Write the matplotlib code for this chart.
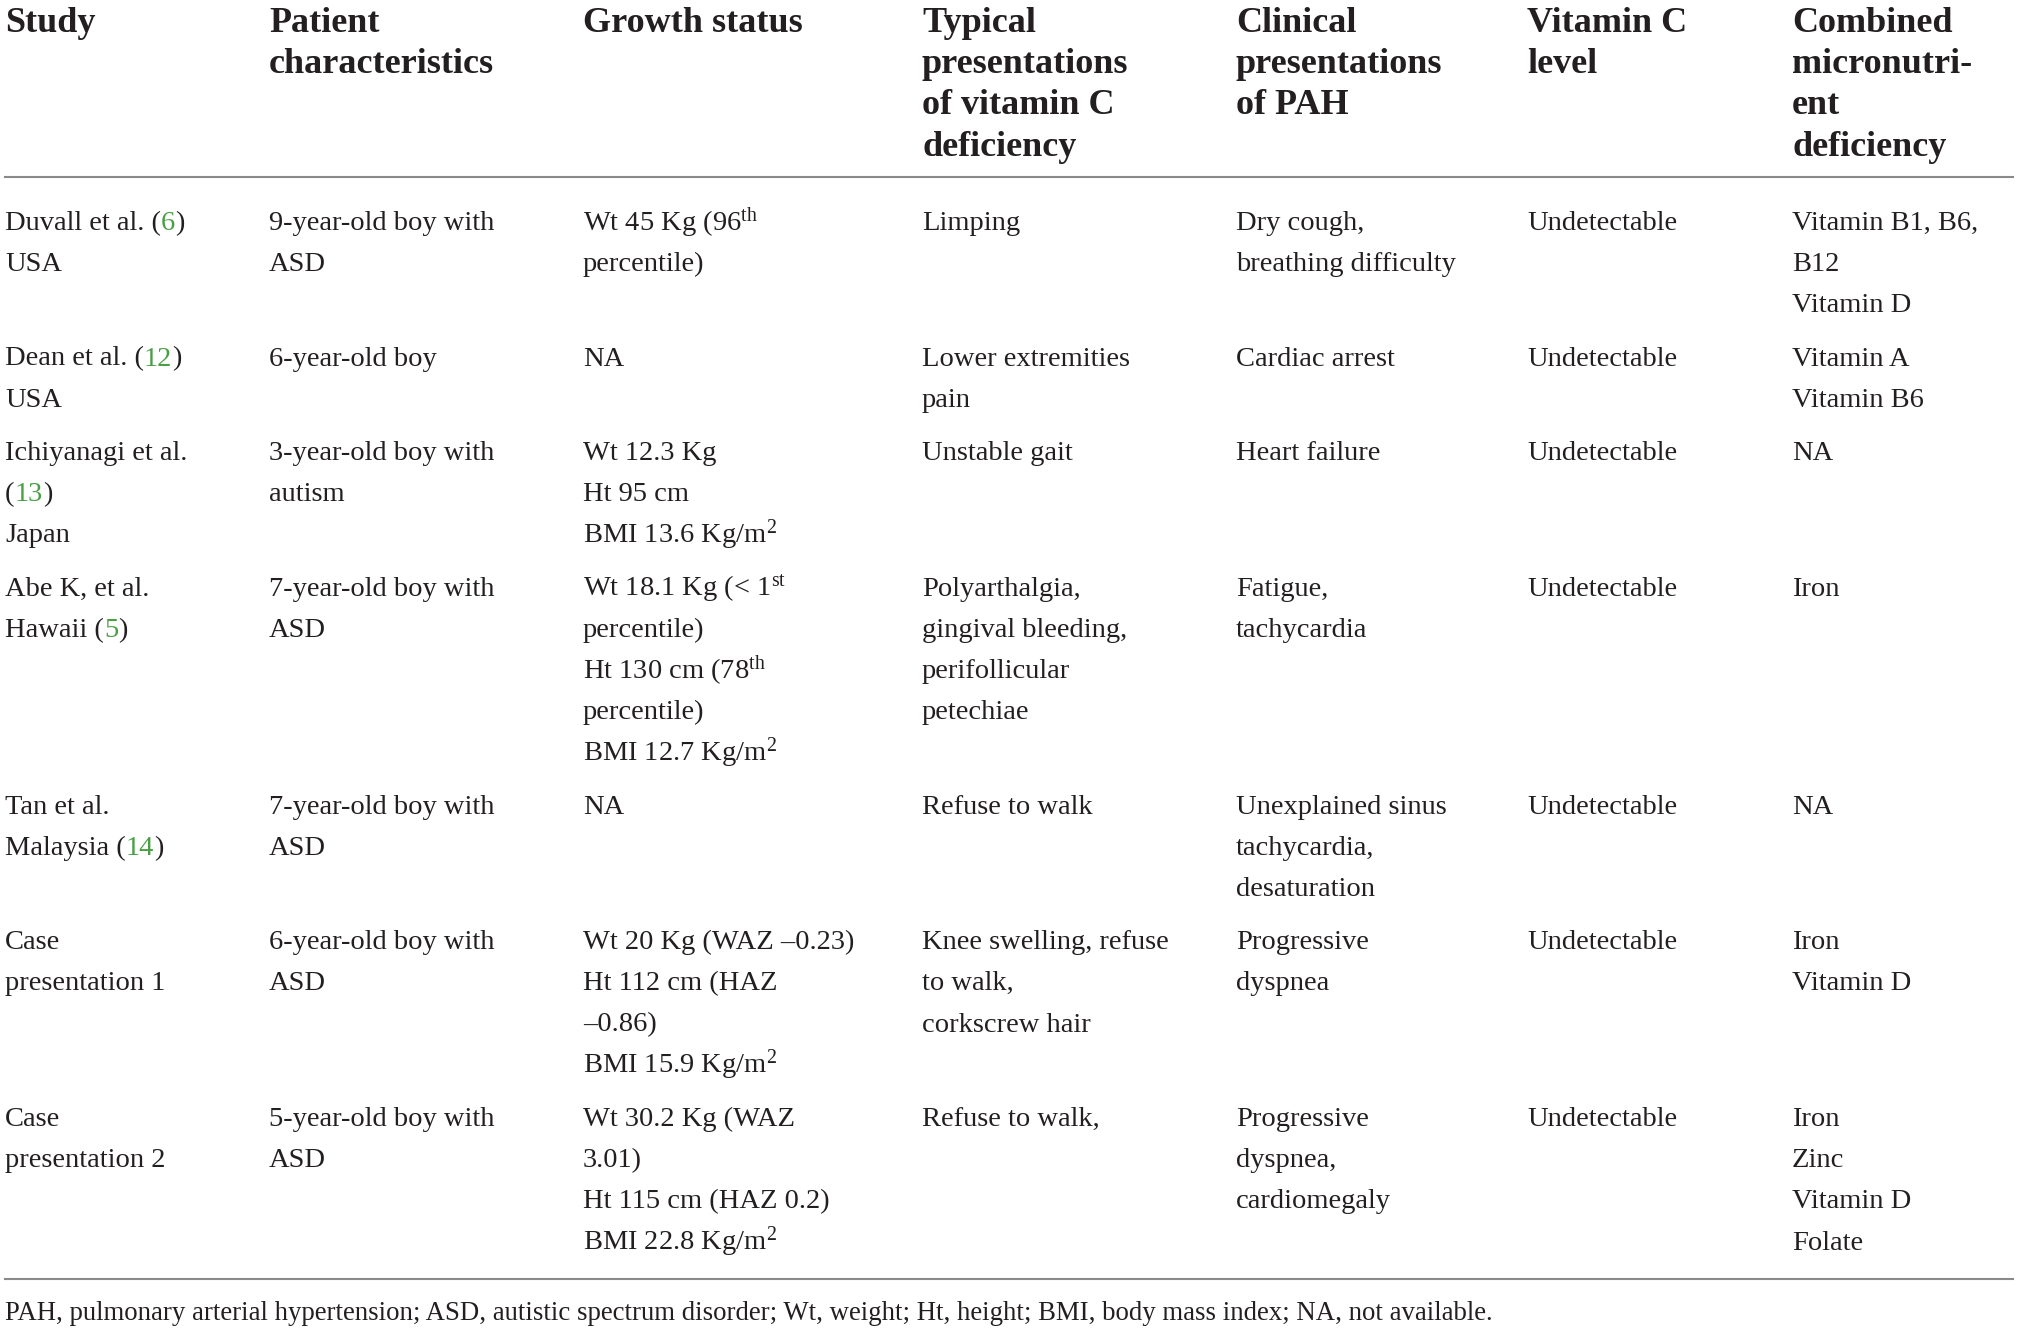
import re
import matplotlib
matplotlib.use('Agg')
import matplotlib.pyplot as plt

plt.rcParams['font.family'] = ['Liberation Serif', 'DejaVu Serif']
plt.rcParams['mathtext.fontset'] = 'custom'
plt.rcParams['mathtext.rm'] = 'Liberation Serif'
plt.rcParams['mathtext.it'] = 'Liberation Serif:italic'
plt.rcParams['mathtext.bf'] = 'Liberation Serif:bold'

# table contents ([n] = green reference number)
headers = ['Study', 'Patient\ncharacteristics', 'Growth status',
           'Typical\npresentations\nof vitamin C\ndeficiency',
           'Clinical\npresentations\nof PAH', 'Vitamin C\nlevel',
           'Combined\nmicronutri-\nent\ndeficiency']

studies = ['Duvall et al. ([6])\nUSA',
           'Dean et al. ([12])\nUSA',
           'Ichiyanagi et al.\n([13])\nJapan',
           'Abe K, et al.\nHawaii ([5])',
           'Tan et al.\nMalaysia ([14])',
           'Case\npresentation 1',
           'Case\npresentation 2']

patients = ['9-year-old boy with\nASD',
            '6-year-old boy',
            '3-year-old boy with\nautism',
            '7-year-old boy with\nASD',
            '7-year-old boy with\nASD',
            '6-year-old boy with\nASD',
            '5-year-old boy with\nASD']

growth = ['Wt 45 Kg (96$^{\\mathrm{th}}$\npercentile)',
          'NA',
          'Wt 12.3 Kg\nHt 95 cm\nBMI 13.6 Kg/m$^{\\mathrm{2}}$',
          'Wt 18.1 Kg (< 1$^{\\mathrm{st}}$\npercentile)\nHt 130 cm (78$^{\\mathrm{th}}$\npercentile)\nBMI 12.7 Kg/m$^{\\mathrm{2}}$',
          'NA',
          'Wt 20 Kg (WAZ \u20130.23)\nHt 112 cm (HAZ\n\u20130.86)\nBMI 15.9 Kg/m$^{\\mathrm{2}}$',
          'Wt 30.2 Kg (WAZ\n3.01)\nHt 115 cm (HAZ 0.2)\nBMI 22.8 Kg/m$^{\\mathrm{2}}$']

typical = ['Limping',
           'Lower extremities\npain',
           'Unstable gait',
           'Polyarthalgia,\ngingival bleeding,\nperifollicular\npetechiae',
           'Refuse to walk',
           'Knee swelling, refuse\nto walk,\ncorkscrew hair',
           'Refuse to walk,']

clinical = ['Dry cough,\nbreathing difficulty',
            'Cardiac arrest',
            'Heart failure',
            'Fatigue,\ntachycardia',
            'Unexplained sinus\ntachycardia,\ndesaturation',
            'Progressive\ndyspnea',
            'Progressive\ndyspnea,\ncardiomegaly']

vitc_level = ['Undetectable'] * 7

combined = ['Vitamin B1, B6,\nB12\nVitamin D',
            'Vitamin A\nVitamin B6',
            'NA',
            'Iron',
            'NA',
            'Iron\nVitamin D',
            'Iron\nZinc\nVitamin D\nFolate']

footnote = ('PAH, pulmonary arterial hypertension; ASD, autistic spectrum disorder; '
            'Wt, weight; Ht, height; BMI, body mass index; NA, not available.')

columns = [studies, patients, growth, typical, clinical, vitc_level, combined]
col_x = [5, 269, 583, 922, 1236, 1527, 1792]

W, H = 2019, 1332
TXT = '#231f20'
GREEN = '#4a9f45'
RULE = '#8a8a8a'

fig = plt.figure(figsize=(W / 100, H / 100), dpi=100)
ax = fig.add_axes([0, 0, 1, 1])
ax.set_xlim(0, W)
ax.set_ylim(H, 0)
ax.axis('off')
fig.canvas.draw()
renderer = fig.canvas.get_renderer()


def draw_line(x, y, s, size):
    # split on [n] markers, draw pieces side by side
    parts = re.split(r'(\[\d+\])', s)
    for p in parts:
        if not p:
            continue
        col = TXT
        if p.startswith('['):
            p = p[1:-1]
            col = GREEN
        t = ax.text(x, y, p, fontsize=size, color=col, va='baseline', ha='left')
        bb = t.get_window_extent(renderer)
        x += bb.width


# header
for hx, h in zip(col_x, headers):
    for i, ln in enumerate(h.split('\n')):
        ax.text(hx, 32 + i * 41.2, ln, fontsize=26, fontweight='bold',
                color=TXT, va='baseline', ha='left')

ax.plot([5, 2013], [177, 177], color=RULE, lw=1.5)

# body rows
y0 = 230
line_h = 41.2
for r in range(len(studies)):
    nlines = max(len(c[r].split('\n')) for c in columns)
    for cx, c in zip(col_x, columns):
        for i, ln in enumerate(c[r].split('\n')):
            draw_line(cx, y0 + i * line_h, ln, 20.5)
    y0 += nlines * line_h + 12

ax.plot([5, 2013], [1279, 1279], color=RULE, lw=1.5)

ax.text(5, 1320, footnote, fontsize=19.3, color=TXT, va='baseline', ha='left')

fig.savefig('out.png', dpi=100)
